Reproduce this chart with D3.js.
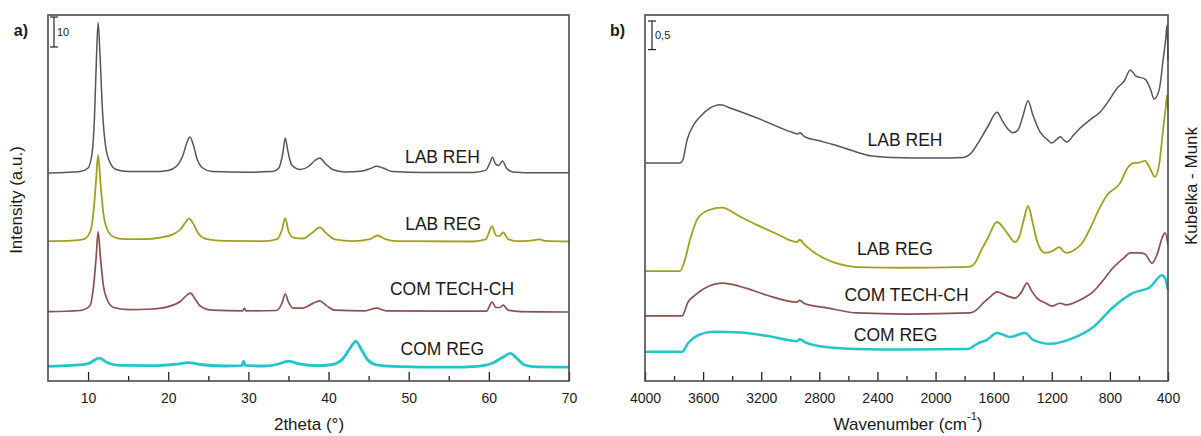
<!DOCTYPE html>
<html>
<head>
<meta charset="utf-8">
<script src="https://cdn.jsdelivr.net/npm/d3@7"></script>
<style>
body { margin: 0; background: #fff; }
text { font-family: "Liberation Sans", Arial, sans-serif; fill: #1a1a1a; }
</style>
</head>
<body>
<svg id="chart" width="1201" height="436"></svg>
<script>
// ---- a) XRD, [2theta, intensity as plotted (stacked)] ----
var xrdNames = ["LAB REH", "LAB REG", "COM TECH-CH", "COM REG"];
var xrdLabReh = [[5,69.3],[7,69.5],[9,69.8],[10,71],[10.5,76],[10.8,88],[11,104],[11.25,119.5],[11.5,108],[11.8,90],[12.2,78],[12.8,72.5],[13.5,70.5],[15,69.8],[18,69.8],[20,70.2],[21,71.5],[21.8,75],[22.4,80],[22.7,81.3],[23.1,79],[23.6,74],[24.3,71],[25.5,69.8],[30,69.6],[33,69.8],[33.8,71],[34.3,76],[34.6,81],[34.9,77],[35.4,72],[36.5,70.5],[37.5,71.5],[38.3,73.5],[38.9,74.3],[39.6,72.5],[40.5,70.5],[42,69.7],[44,69.9],[45.2,70.8],[46,71.6],[46.8,71],[48,69.8],[52,69.5],[58,69.5],[59.6,70.2],[60.1,72.5],[60.45,74.6],[60.8,72.5],[61.2,71.8],[61.7,73.3],[62.2,71],[63,69.7],[66,69.4],[70,69.4]];
var xrdLabReg = [[5,46.6],[8,46.8],[9.5,47.3],[10.3,50],[10.7,57],[11,67],[11.25,75.3],[11.55,66],[11.9,56],[12.4,50.5],[13.2,48],[14.5,47.3],[17,47.3],[19,47.8],[20.5,48.8],[21.5,50.5],[22.2,53],[22.6,54.2],[23.1,52.5],[23.8,49],[24.8,47.3],[27,46.7],[32,46.6],[33.6,47.3],[34.2,50.5],[34.6,54.3],[35,50],[35.6,47.8],[36.8,47.5],[38,49.5],[38.9,51.2],[39.7,49.3],[40.8,47.2],[43,46.6],[45.2,47.3],[46.1,48.5],[47,47.4],[48.5,46.6],[58,46.5],[59.6,47.2],[60.4,51.5],[60.9,48.5],[61.3,48.3],[61.8,49.5],[62.4,47.3],[63.5,46.6],[65.5,46.9],[66.3,47.2],[67,46.7],[70,46.5]];
var xrdComTech = [[5,23.1],[9,23.5],[10.2,25],[10.7,32],[11,41],[11.25,49.7],[11.55,41],[11.9,32],[12.4,27],[13.2,24.5],[15,23.8],[18,24],[20,24.8],[21.5,26.5],[22.4,28.8],[22.8,29.3],[23.3,27.5],[24,25],[25.5,23.6],[29.3,23.4],[29.5,24.3],[29.7,23.4],[33.5,23.5],[34.2,26],[34.6,29],[35,26.3],[35.6,24.3],[36.8,24.3],[38,25.8],[38.9,26.7],[39.7,25.2],[40.8,23.6],[44.5,23.4],[46,24.3],[47.2,23.4],[59.7,23.3],[60.4,26.3],[60.9,24.5],[61.4,24.5],[61.8,25.3],[62.4,23.6],[64,23.1],[70,23]];
var xrdComReg = [[5,4.9],[8,5.2],[10,5.8],[11.4,7.6],[12.5,6],[14,5.2],[18,5.1],[21,5.6],[22.5,6.1],[24,5.5],[27,5],[29.2,5.1],[29.4,6.6],[29.6,5.2],[32,5],[33.5,5.5],[35,6.6],[36.5,5.6],[38.5,5.1],[40.5,5.5],[41.8,7.5],[42.7,11],[43.4,13.2],[44.1,10.5],[44.9,7],[46,5.4],[48,4.9],[55,4.6],[58.5,4.9],[60.5,6],[61.8,8],[62.7,9.2],[63.5,7.5],[64.4,5.4],[65.5,4.8],[70,4.6]];
var xrdTicks = [10, 20, 30, 40, 50, 60, 70];
var xrdMinor = [15, 25, 35, 45, 55, 65];
var xrdBar = 10;

// ---- b) DRIFT, [wavenumber, Kubelka-Munk as plotted (stacked)] ----
var irNames = ["LAB REH", "LAB REG", "COM TECH-CH", "COM REG"];
var irLabReh = [[4000,3.81],[3760,3.81],[3740,3.86],[3711,4.21],[3660,4.5],[3621,4.62],[3553,4.77],[3484,4.83],[3400,4.76],[3200,4.57],[3000,4.36],[2950,4.32],[2933,4.34],[2900,4.27],[2800,4.2],[2700,4.13],[2550,4.01],[2450,3.94],[2300,3.91],[2000,3.9],[1810,3.91],[1750,4],[1708,4.16],[1640,4.45],[1577,4.7],[1540,4.55],[1500,4.4],[1467,4.34],[1430,4.4],[1400,4.62],[1363,4.9],[1330,4.65],[1280,4.35],[1230,4.22],[1200,4.16],[1160,4.24],[1140,4.27],[1120,4.22],[1096,4.18],[1050,4.3],[1006,4.42],[930,4.58],[868,4.7],[800,4.93],[751,5.12],[700,5.25],[660,5.44],[620,5.33],[558,5.28],[520,5.1],[496,4.93],[460,5.1],[434,5.61],[415,6],[407,6.22],[400,5.61]];
var irLabReg = [[4000,1.92],[3760,1.92],[3725,2.12],[3690,2.47],[3635,2.85],[3560,2.99],[3470,3.03],[3350,2.88],[3230,2.73],[3100,2.58],[2954,2.43],[2935,2.47],[2900,2.38],[2843,2.26],[2706,2.08],[2600,2.01],[2541,1.99],[2200,1.98],[1850,1.99],[1763,2],[1720,2.1],[1694,2.24],[1640,2.5],[1577,2.78],[1508,2.59],[1453,2.43],[1420,2.55],[1390,2.85],[1363,3.06],[1330,2.75],[1302,2.45],[1247,2.24],[1190,2.28],[1150,2.34],[1120,2.27],[1096,2.24],[1040,2.3],[992,2.41],[930,2.7],[868,3.04],[820,3.25],[730,3.46],[680,3.72],[640,3.81],[600,3.82],[558,3.85],[520,3.7],[490,3.57],[460,3.8],[434,4.39],[415,4.8],[407,5],[400,4.75]];
var irComTech = [[4000,1.14],[3745,1.14],[3704,1.38],[3656,1.5],[3560,1.66],[3470,1.71],[3300,1.62],[3160,1.5],[2954,1.38],[2935,1.41],[2900,1.35],[2747,1.28],[2541,1.19],[2200,1.17],[1763,1.19],[1720,1.24],[1673,1.36],[1620,1.48],[1577,1.56],[1500,1.48],[1453,1.45],[1410,1.55],[1370,1.71],[1340,1.58],[1302,1.45],[1240,1.36],[1200,1.31],[1144,1.36],[1100,1.33],[1054,1.36],[980,1.45],[916,1.56],[850,1.75],[778,1.98],[700,2.16],[660,2.24],[600,2.24],[558,2.22],[510,2.06],[470,2.25],[441,2.5],[420,2.59],[400,2.38]];
var irComReg = [[4000,0.51],[3745,0.51],[3704,0.66],[3635,0.8],[3532,0.86],[3346,0.85],[3119,0.77],[2954,0.7],[2935,0.73],[2900,0.68],[2747,0.59],[2541,0.56],[2200,0.55],[1777,0.56],[1708,0.66],[1646,0.72],[1577,0.84],[1488,0.77],[1384,0.84],[1329,0.72],[1212,0.65],[1054,0.75],[916,0.94],[778,1.29],[640,1.54],[524,1.64],[441,1.85],[420,1.8],[400,1.59]];
var irTicks = [4000, 3600, 3200, 2800, 2400, 2000, 1600, 1200, 800, 400];
var irMinor = [3800, 3400, 3000, 2600, 2200, 1800, 1400, 1000, 600];
var irBar = 0.5;

var colors = ["#555555", "#a0a01e", "#8c5050", "#22c6ca"];
var svg = d3.select("#chart");

function drawPanel(p) {
  var g = svg.append("g");
  var x = d3.scaleLinear().domain(p.xDomain).range([p.left, p.right]);
  var y = d3.scaleLinear().domain(p.yDomain).range([p.bottom, p.top]);

  var line = d3.line().x(function(d){ return x(d[0]); }).y(function(d){ return y(d[1]); }).curve(d3.curveMonotoneX);
  p.series.forEach(function(s, i){
    g.append("path").datum(s).attr("d", line).attr("fill", "none")
      .attr("stroke", colors[i]).attr("stroke-width", p.widths[i]).attr("stroke-linejoin", "round");
  });

  // bottom axis, ticks pointing in
  var ax = g.append("g").attr("transform", "translate(0," + p.bottom + ")")
    .call(d3.axisBottom(x).tickValues(p.ticks).tickSize(-9).tickSizeOuter(0).tickPadding(12).tickFormat(d3.format("d")));
  ax.select(".domain").remove();
  ax.selectAll("line").attr("stroke", "#222").attr("stroke-width", 1.3);
  ax.selectAll("text").attr("font-size", 14).attr("fill", "#222").style("font-family", "Liberation Sans, Arial, sans-serif");
  var mx = g.append("g").attr("transform", "translate(0," + p.bottom + ")")
    .call(d3.axisBottom(x).tickValues(p.minor).tickSize(-5).tickSizeOuter(0).tickFormat(""));
  mx.select(".domain").remove();
  mx.selectAll("line").attr("stroke", "#222").attr("stroke-width", 1.3);

  g.append("rect").attr("x", p.left).attr("y", p.top).attr("width", p.right - p.left).attr("height", p.bottom - p.top)
    .attr("fill", "none").attr("stroke", "#4a4a4a").attr("stroke-width", 1.6);

  // intensity scale bar
  var b0 = y.invert(p.barTop), bx = p.left + p.barDx;
  g.append("line").attr("x1", bx).attr("x2", bx).attr("y1", y(b0)).attr("y2", y(b0 - p.bar)).attr("stroke", "#222").attr("stroke-width", 1.2);
  [b0, b0 - p.bar].forEach(function(v){
    g.append("line").attr("x1", bx - 4).attr("x2", bx + 4).attr("y1", y(v)).attr("y2", y(v)).attr("stroke", "#222").attr("stroke-width", 1.2);
  });
  g.append("text").attr("x", bx + 3).attr("y", y(b0 - p.bar / 2)).attr("dy", "0.35em").attr("font-size", 11)
    .style("fill", "#222").text(p.barText);

  p.labels.forEach(function(l, i){
    g.append("text").attr("x", x(l[0])).attr("y", y(l[1])).attr("dy", "0.35em")
      .attr("text-anchor", "middle").attr("font-size", 17.5).text(p.names[i]);
  });

  g.append("text").attr("x", p.left - 20).attr("y", 36).attr("text-anchor", "end")
    .attr("font-size", 16).attr("font-weight", "bold").text(p.tag);
  return { x: x, y: y };
}

drawPanel({
  left: 48, right: 569, top: 15, bottom: 381,
  xDomain: [5, 70], yDomain: [0, 122],
  series: [xrdLabReh, xrdLabReg, xrdComTech, xrdComReg], names: xrdNames,
  widths: [1.5, 1.8, 1.7, 2.8],
  ticks: xrdTicks, minor: xrdMinor,
  bar: xrdBar, barText: "10", barTop: 17, barDx: 6,
  labels: [[54.2, 74.7], [54.3, 52.3], [55.4, 30.7], [54.2, 10.6]],
  tag: "a)"
});
drawPanel({
  left: 645, right: 1168, top: 15, bottom: 381,
  xDomain: [4000, 400], yDomain: [0, 6.4],
  series: [irLabReh, irLabReg, irComTech, irComReg], names: irNames,
  widths: [1.5, 1.8, 1.7, 2.5],
  ticks: irTicks, minor: irMinor,
  bar: irBar, barText: "0,5", barTop: 21, barDx: 7,
  labels: [[2210, 4.21], [2280, 2.31], [2200, 1.50], [2275, 0.80]],
  tag: "b)"
});

// axis titles
svg.append("text").attr("x", 309).attr("y", 424).attr("dy", "0.35em").attr("text-anchor", "middle").attr("font-size", 17).text("2theta (°)");
var wt = svg.append("text").attr("x", 908).attr("y", 424).attr("dy", "0.35em").attr("text-anchor", "middle").attr("font-size", 17);
wt.append("tspan").text("Wavenumber (cm");
wt.append("tspan").attr("font-size", 11).attr("dy", "-0.9em").text("-1");
wt.append("tspan").attr("dy", "0.55em").text(")");
svg.append("text").attr("transform", "translate(16,200) rotate(-90)").attr("dy", "0.35em").attr("text-anchor", "middle").attr("font-size", 17).text("Intensity (a.u.)");
svg.append("text").attr("transform", "translate(1191,186) rotate(-90)").attr("dy", "0.35em").attr("text-anchor", "middle").attr("font-size", 17).text("Kubelka - Munk");
</script>
</body>
</html>
